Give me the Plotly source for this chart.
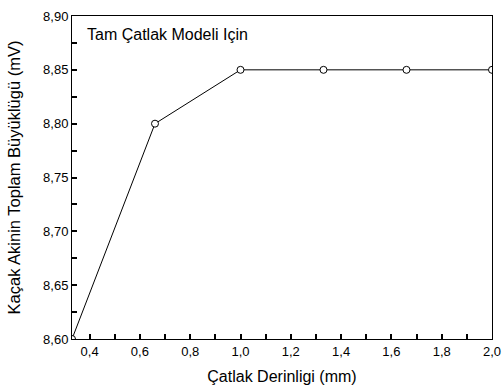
import plotly.graph_objects as go

depth_mm = [0.33, 0.66, 1.0, 1.33, 1.66, 2.0]
leak_mv = [8.60, 8.80, 8.85, 8.85, 8.85, 8.85]
x_tick_vals = [0.4, 0.5, 0.6, 0.7, 0.8, 0.9, 1.0, 1.1, 1.2, 1.3, 1.4, 1.5, 1.6, 1.7, 1.8, 1.9, 2.0]
x_tick_text = ["0,4", "", "0,6", "", "0,8", "", "1,0", "", "1,2", "", "1,4", "", "1,6", "", "1,8", "", "2,0"]
y_tick_vals = [8.60, 8.625, 8.65, 8.675, 8.70, 8.725, 8.75, 8.775, 8.80, 8.825, 8.85, 8.875, 8.90]
y_tick_text = ["8,60", "", "8,65", "", "8,70", "", "8,75", "", "8,80", "", "8,85", "", "8,90"]

fig = go.Figure()
fig.add_trace(go.Scatter(
    x=depth_mm, y=leak_mv, mode="lines+markers",
    line=dict(color="black", width=1),
    marker=dict(symbol="circle", size=7, color="white",
                line=dict(color="black", width=1)),
    showlegend=False,
))

font = "Liberation Sans"
axis_common = dict(
    showline=True, linecolor="black", linewidth=1, mirror=True,
    ticks="inside", ticklen=5, tickcolor="black", tickwidth=2,
    showgrid=False, zeroline=False,
    tickfont=dict(family=font, size=13, color="black"),
)
fig.update_xaxes(
    range=[0.33, 2.0], tickmode="array", tickvals=x_tick_vals, ticktext=x_tick_text,
    title=dict(text="Çatlak Derinligi (mm)", font=dict(family=font, size=16, color="black"), standoff=13),
    **axis_common,
)
fig.update_yaxes(
    range=[8.60, 8.90], tickmode="array", tickvals=y_tick_vals, ticktext=y_tick_text,
    title=dict(text="Kaçak Akinin Toplam Büyüklügü (mV)", font=dict(family=font, size=16.5, color="black"), standoff=18),
    **axis_common,
)
fig.add_annotation(
    text="Tam Çatlak Modeli Için", xref="paper", yref="paper",
    x=0.03, y=0.975, xanchor="left", yanchor="top", showarrow=False,
    font=dict(family=font, size=16, color="black"),
)
fig.update_layout(
    width=502, height=390,
    margin=dict(l=72, r=10, t=16, b=51, autoexpand=False),
    plot_bgcolor="white", paper_bgcolor="white",
    font=dict(family=font, color="black"),
)
fig.write_html("out.html")
